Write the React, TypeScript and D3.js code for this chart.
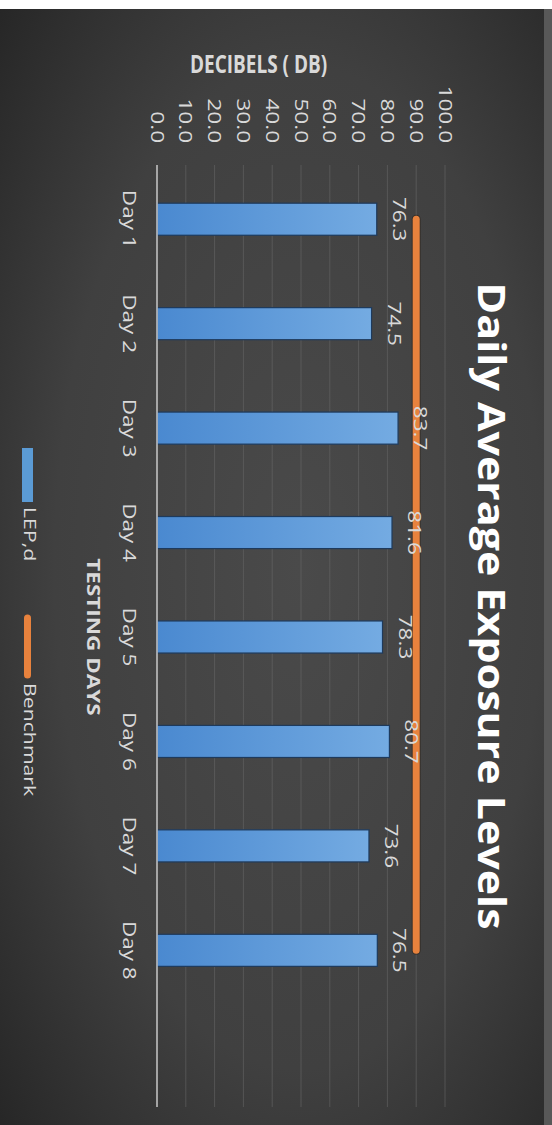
import React from "react";
import * as d3 from "d3";

const categories = ["Day 1", "Day 2", "Day 3", "Day 4", "Day 5", "Day 6", "Day 7", "Day 8"];
const lepValues = [76.3, 74.5, 83.7, 81.6, 78.3, 80.7, 73.6, 76.5];
const benchmarkValues = [90, 90, 90, 90, 90, 90, 90, 90];
const valueTicks = [0, 10, 20, 30, 40, 50, 60, 70, 80, 90, 100];
const trailingBlank = ["(blank)"];
const titleText = "Daily Average Exposure Levels";
const valueAxisTitle = "DECIBELS ( DB)";
const categoryAxisTitle = "TESTING DAYS";
const seriesNames = ["LEP,d", "Benchmark"];

const W = 552;
const H = 1125;
const K = 1.25;
const FONT = "'Open Sans', 'DejaVu Sans', sans-serif";

export default function App() {
  const x = d3.scaleLinear().domain([0, 100]).range([157, 445]);
  const y = d3
    .scaleBand<string>()
    .domain([...categories, ...trailingBlank])
    .range([167, 1107])
    .paddingInner(0.693)
    .paddingOuter(0.3465);
  const bw = y.bandwidth();
  const cy = (c: string) => (y(c) as number) + bw / 2;
  const rot = (px: number, py: number, k = K) =>
    `translate(${px},${py}) scale(1,${k}) rotate(90)`;

  const benchLine = d3
    .line<number>()
    .x((v) => x(v))
    .y((_, i) => cy(categories[i]));

  const gridTop = 165;
  const gridBottom = 1107;

  return (
    <svg
      width={W}
      height={H}
      style={{ position: "absolute", left: 0, top: 0, background: "#ffffff" }}
      fontFamily={FONT}
    >
      <defs>
        <radialGradient id="bg" cx="0.55" cy="0.5" r="0.75">
          <stop offset="0%" stopColor="#4a4a4a" />
          <stop offset="60%" stopColor="#404040" />
          <stop offset="100%" stopColor="#262626" />
        </radialGradient>
        <linearGradient id="bar" x1="0" x2="1" y1="0" y2="0">
          <stop offset="0%" stopColor="#4a89d0" />
          <stop offset="100%" stopColor="#74abe2" />
        </linearGradient>
      </defs>
      <rect x={0} y={9} width={544} height={H - 9} fill="url(#bg)" />
      <rect x={544} y={9} width={W - 544} height={H - 9} fill="#585858" />

      {/* gridlines */}
      {valueTicks.slice(1).map((t) => (
        <line
          key={t}
          x1={x(t)}
          x2={x(t)}
          y1={gridTop}
          y2={gridBottom}
          stroke="#6a6a6a"
          strokeOpacity={0.55}
          strokeWidth={1}
        />
      ))}

      {/* bars */}
      {categories.map((c, i) => (
        <rect
          key={c}
          x={x(0)}
          y={y(c)}
          width={x(lepValues[i]) - x(0)}
          height={bw}
          fill="url(#bar)"
          stroke="#1e3a5c"
          strokeWidth={1.2}
        />
      ))}

      {/* axis line */}
      <line x1={x(0)} x2={x(0)} y1={gridTop} y2={gridBottom} stroke="#c8c8c8" strokeWidth={1.5} />

      {/* benchmark line */}
      <path
        d={benchLine(benchmarkValues) || ""}
        fill="none"
        stroke="#2a1d14"
        strokeOpacity={0.5}
        strokeWidth={9}
        strokeLinecap="round"
      />
      <path
        d={benchLine(benchmarkValues) || ""}
        fill="none"
        stroke="#e8823d"
        strokeWidth={7}
        strokeLinecap="round"
      />

      {/* data labels */}
      {categories.map((c, i) => (
        <text
          key={c}
          transform={rot(x(lepValues[i]) + 16, cy(c))}
          textAnchor="middle"
          fontSize={18}
          fill="#d9d9d9"
        >
          {lepValues[i].toFixed(1)}
        </text>
      ))}

      {/* value tick labels */}
      {valueTicks.map((t) => (
        <text
          key={t}
          transform={rot(x(t) - 6.5, 143)}
          textAnchor="end"
          fontSize={18}
          fill="#d9d9d9"
        >
          {t.toFixed(1)}
        </text>
      ))}

      {/* value axis title */}
      <text
        transform={`translate(190,73) scale(1,1.35)`}
        fontSize={19}
        fontWeight="bold"
        fill="#d9d9d9"
      >
        {valueAxisTitle}
      </text>

      {/* category labels */}
      {categories.map((c) => (
        <text
          key={c}
          transform={rot(122.5, cy(c))}
          textAnchor="middle"
          fontSize={18}
          fill="#d9d9d9"
        >
          {c}
        </text>
      ))}

      {/* category axis title */}
      <text
        transform={rot(87, (gridTop + gridBottom) / 2 + 1)}
        textAnchor="middle"
        fontSize={18}
        fontWeight="bold"
        fill="#d9d9d9"
      >
        {categoryAxisTitle}
      </text>

      {/* title */}
      <text
        transform={`translate(478,606) rotate(90)`}
        textAnchor="middle"
        fontSize={38}
        fontWeight="bold"
        fill="#ffffff"
        textLength={647}
        lengthAdjust="spacingAndGlyphs"
      >
        {titleText}
      </text>

      {/* legend */}
      <rect x={22} y={448} width={11} height={54} fill="#5b9bd5" />
      <text transform={rot(24, 507)} textAnchor="start" fontSize={17} fill="#d9d9d9">
        {seriesNames[0]}
      </text>
      <line x1={27.5} x2={27.5} y1={618} y2={675} stroke="#e8823d" strokeWidth={7} strokeLinecap="round" />
      <text transform={rot(24, 683)} textAnchor="start" fontSize={17} fill="#d9d9d9">
        {seriesNames[1]}
      </text>
    </svg>
  );
}
